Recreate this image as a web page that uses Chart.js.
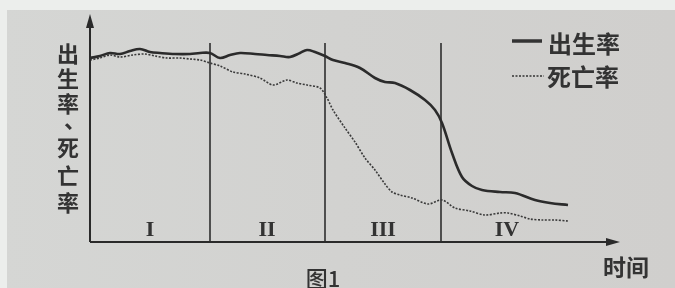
<!DOCTYPE html>
<html><head><meta charset="utf-8">
<script src="https://cdn.jsdelivr.net/npm/chart.js@4"></script>
<style>html,body{margin:0;padding:0;background:#eceeec;}#c{display:block;}</style>
</head><body>
<canvas id="c" width="675" height="288"></canvas>
<script>
// time (arbitrary units) and rate (arbitrary units)
const birthX = [0,10,20,30,40,50,60,70,85,100,110,120,130,140,150,165,177,190,200,210,217,225,235,243,255,270,285,295,305,320,335,345,352,362,372,382,392,410,425,445,460,478];
const birthY = [184,186,189,188,191,193,190,189,188,188,189,189,184,187,189,188,187,186,185,189,192,190,186,182,179,174,164,160,159,152,142,132,119,89,65,56,52,50,49,42,39,37];
const deathX = [0,10,20,30,43,55,65,77,90,100,110,120,130,143,155,170,183,197,207,217,230,237,243,255,265,275,285,295,302,310,322,338,352,365,380,395,410,418,430,440,452,465,478];
const deathY = [182,184,187,185,187,188,186,184,184,183,182,179,176,170,168,164,157,162,159,157,154,144,132,114,100,84,72,58,50,47,44,38,42,34,31,27,29,29,26,23,22,22,21];
const stageX = [120, 235, 351];
const stageTop = 199;
const stageLabels = ['I', 'II', 'III', 'IV'];
const stageLabelX = [60, 177, 293, 417];
const yTitle = ['出','生','率','、','死','亡','率'];
const legendLabels = ['出生率', '死亡率'];
const xTitle = '时间';
const caption = '图1';

const datasets = [
  {label: legendLabels[0], data: birthX.map((x,i)=>({x, y: birthY[i]})), borderColor:'#2b2b2b', borderWidth:2.6, pointRadius:0, tension:0.35, fill:false},
  {label: legendLabels[1], data: deathX.map((x,i)=>({x, y: deathY[i]})), borderColor:'#3a3a3a', borderWidth:1.6, borderDash:[2,1.5], pointRadius:0, tension:0.3, fill:false}
];
stageX.forEach(x => datasets.push({label:'div', data:[{x, y:0},{x, y:stageTop}], borderColor:'#2e2e2e', borderWidth:1.6, pointRadius:0, fill:false}));

const deco = {
  id:'deco',
  beforeDraw(chart){
    const ctx = chart.ctx;
    ctx.save();
    ctx.fillStyle = '#eceeec';
    ctx.fillRect(0,0,chart.width,chart.height);
    const g = ctx.createLinearGradient(0,0,675,0);
    g.addColorStop(0,'#d5d6d4'); g.addColorStop(0.5,'#d2d2d0'); g.addColorStop(1,'#d0cfcd');
    ctx.fillStyle = g;
    ctx.fillRect(7,10,chart.width-7,chart.height-10);
    ctx.restore();
  },
  afterDatasetsDraw(chart){
    const ctx = chart.ctx, xs = chart.scales.x;
    const a = chart.chartArea;
    ctx.save();
    ctx.strokeStyle = '#2a2a2a'; ctx.fillStyle = '#2a2a2a'; ctx.lineWidth = 2;
    // y axis
    ctx.beginPath(); ctx.moveTo(a.left, a.bottom); ctx.lineTo(a.left, a.top+6); ctx.stroke();
    ctx.beginPath(); ctx.moveTo(a.left, a.top); ctx.lineTo(a.left-4, a.top+14); ctx.lineTo(a.left+4, a.top+14); ctx.closePath(); ctx.fill();
    // x axis
    ctx.beginPath(); ctx.moveTo(a.left, a.bottom); ctx.lineTo(a.right-6, a.bottom); ctx.stroke();
    ctx.beginPath(); ctx.moveTo(a.right, a.bottom); ctx.lineTo(a.right-14, a.bottom-4); ctx.lineTo(a.right-14, a.bottom+4); ctx.closePath(); ctx.fill();
    // stage labels
    ctx.fillStyle = '#333';
    ctx.font = 'bold 22px "Liberation Serif", serif';
    ctx.textAlign = 'center'; ctx.textBaseline = 'middle';
    stageLabels.forEach((t,i)=> ctx.fillText(t, xs.getPixelForValue(stageLabelX[i]), 230));
    // y title
    ctx.font = 'bold 22px "Noto Sans CJK SC", sans-serif';
    const yPos = [54, 79, 104, 120, 148, 176, 203];
    const xPos = [68, 68, 68, 75, 68, 68, 68];
    yTitle.forEach((c,i)=> ctx.fillText(c, xPos[i], yPos[i]));
    // legend
    ctx.textAlign = 'left';
    ctx.font = 'bold 24px "Noto Sans CJK SC", sans-serif';
    ctx.fillText(legendLabels[0], 548, 44);
    ctx.fillText(legendLabels[1], 547, 77);
    ctx.lineWidth = 3.5; ctx.strokeStyle = '#333';
    ctx.beginPath(); ctx.moveTo(512, 41); ctx.lineTo(542, 41); ctx.stroke();
    ctx.lineWidth = 1.6; ctx.setLineDash([2,1.5]);
    ctx.beginPath(); ctx.moveTo(512, 76); ctx.lineTo(544, 76); ctx.stroke();
    ctx.setLineDash([]);
    // x title and caption
    ctx.textAlign = 'center';
    ctx.font = 'bold 23px "Noto Sans CJK SC", sans-serif';
    ctx.fillText(xTitle, 626, 267);
    ctx.font = '500 22px "Noto Sans CJK SC", sans-serif';
    ctx.fillText(caption, 323, 279);
    ctx.restore();
  }
};

new Chart(document.getElementById('c'), {
  type:'line',
  data:{datasets},
  options:{
    responsive:false, animation:false,
    layout:{padding:{left:90, right:55, top:14, bottom:46}},
    plugins:{legend:{display:false}, tooltip:{enabled:false}},
    scales:{
      x:{type:'linear', min:0, max:530, display:false},
      y:{min:0, max:228, display:false}
    }
  },
  plugins:[deco]
});
</script>
</body></html>
